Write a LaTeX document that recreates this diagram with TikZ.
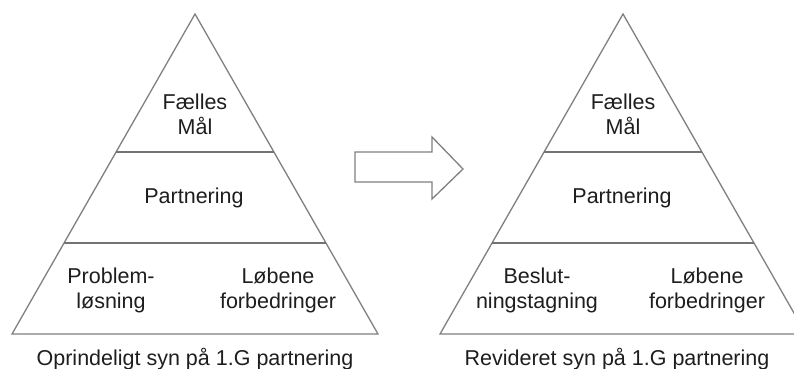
\documentclass[tikz,border=0pt]{standalone}
\usepackage{fontspec}
\setmainfont{Liberation Sans}
\definecolor{edge}{RGB}{128,128,128}
\definecolor{ink}{RGB}{30,30,30}
\begin{document}
\begin{tikzpicture}[x=1pt,y=-1pt,
  outline/.style={draw=edge,line width=1.3pt,line join=miter},
  tier/.style={draw=edge!90!black,line width=1.8pt},
  lbl/.style={text=ink,font=\fontsize{21.5}{24.5}\selectfont,align=center,inner sep=0pt,anchor=base},
  caption/.style={text=ink,font=\fontsize{21.5}{24.5}\selectfont,inner sep=0pt,anchor=base}]
\useasboundingbox (0,0) rectangle (794,368);
\clip (0,0) rectangle (794,368);
\fill[white] (0,0) rectangle (794,368);

% left pyramid
\coordinate (LA) at (195,14);
\coordinate (LL) at (12,334);
\coordinate (LR) at (378,334);
\draw[outline] (LA) -- (LL) -- (LR) -- cycle;
\coordinate (L1a) at (116.1,152);
\coordinate (L1b) at (273.9,152);
\coordinate (L2a) at (64,243);
\coordinate (L2b) at (326,243);
\draw[tier] (L1a) -- (L1b);
\draw[tier] (L2a) -- (L2b);

% two-line labels sit on the baseline of their last line
\node[lbl] (lgoal) at (195,134) {Fælles\\Mål};
\node[lbl] (lpart) at (194,203) {Partnering};
\node[lbl] (lprob) at (111,308) {Problem-\\løsning};
\node[lbl] (lrun) at (278,308) {Løbene\\forbedringer};
\node[caption] (lcap) at (195,365) {Oprindeligt syn på 1.G partnering};

% right pyramid
\coordinate (RA) at (623,14);
\coordinate (RL) at (440,334);
\coordinate (RR) at (806,334);
\draw[outline] (RA) -- (RL) -- (RR) -- cycle;
\coordinate (R1a) at (544.1,152);
\coordinate (R1b) at (701.9,152);
\coordinate (R2a) at (492,243);
\coordinate (R2b) at (754,243);
\draw[tier] (R1a) -- (R1b);
\draw[tier] (R2a) -- (R2b);

\node[lbl] (rgoal) at (623,134) {Fælles\\Mål};
\node[lbl] (rpart) at (622,203) {Partnering};
\node[lbl] (rdec) at (537,308) {Beslut-\\ningstagning};
\node[lbl] (rrun) at (707,308) {Løbene\\forbedringer};
\node[caption] (rcap) at (617,365) {Revideret syn på 1.G partnering};

% block arrow between the pyramids
\draw[outline] (355,152) -- (432,152) -- (432,137) -- (463,169)
  -- (432,199) -- (432,182) -- (355,182) -- cycle;
\end{tikzpicture}
\end{document}
